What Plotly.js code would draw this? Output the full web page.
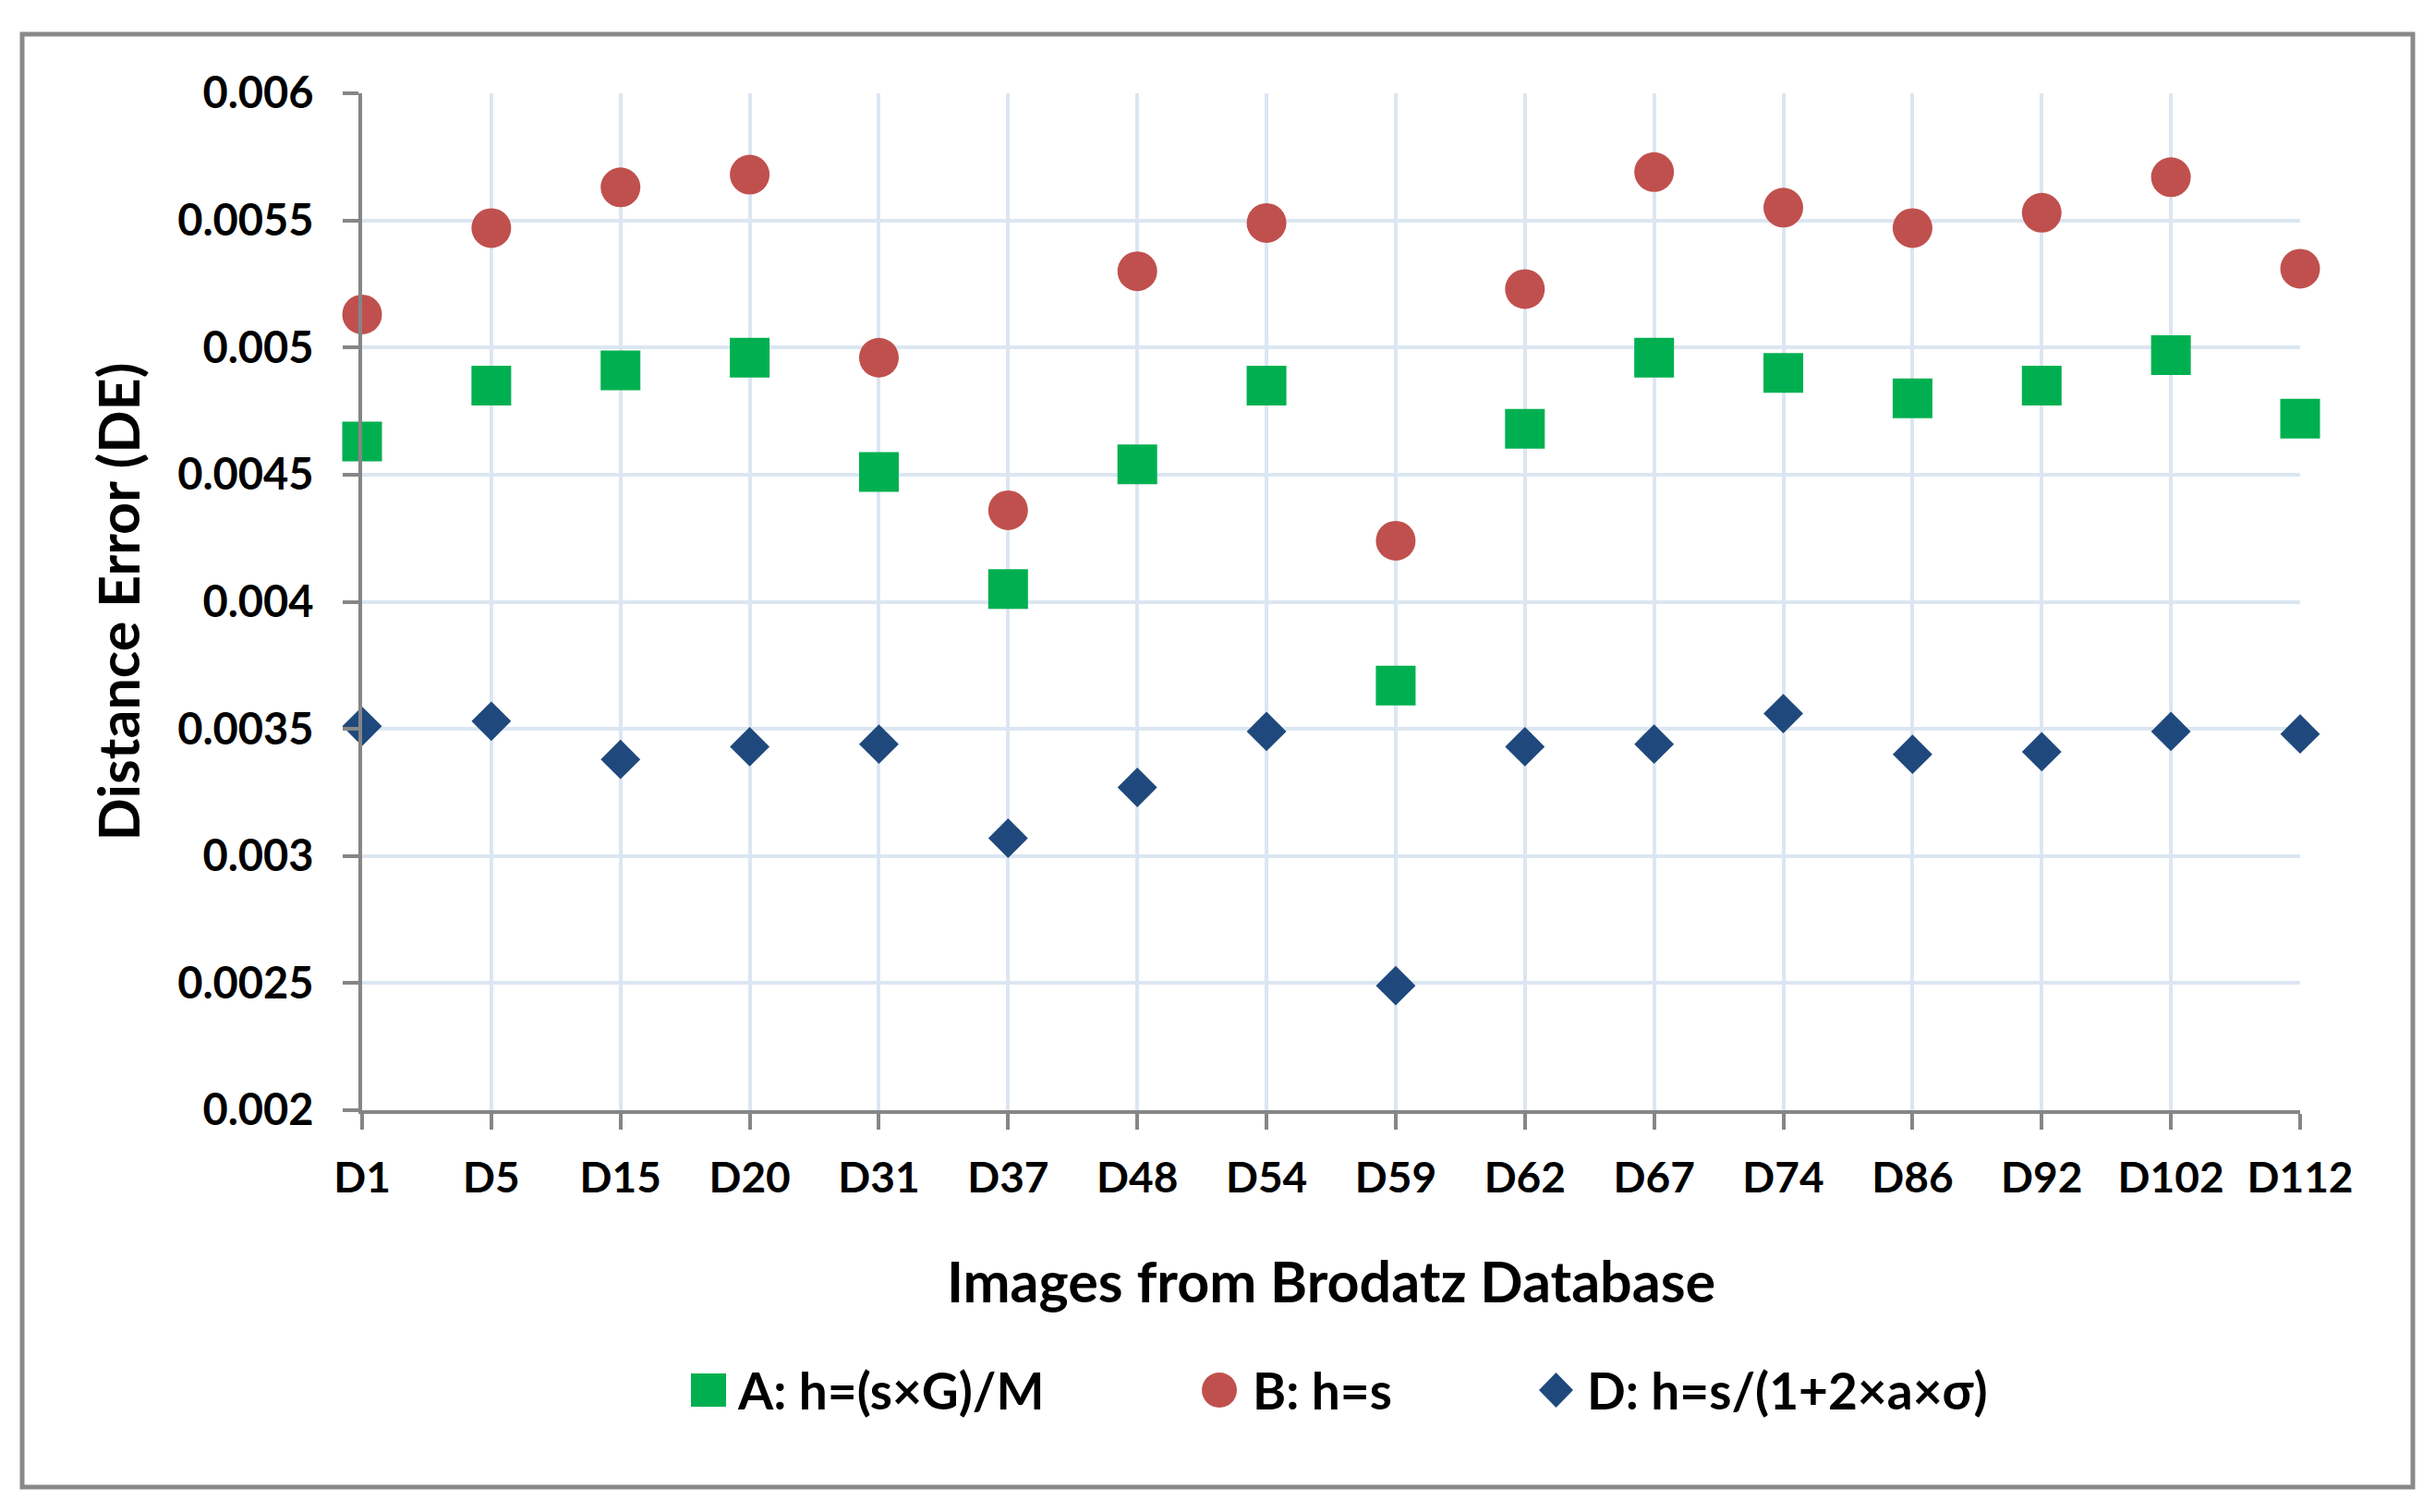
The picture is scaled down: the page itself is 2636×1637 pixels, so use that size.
<!DOCTYPE html>
<html>
<head>
<meta charset="utf-8">
<script src="https://cdn.plot.ly/plotly-3.0.1.min.js"></script>
<style>html,body{margin:0;padding:0;background:#fff;}#chart{width:2636px;height:1637px;}</style>
</head>
<body>
<div id="chart"></div>
<script>
// ---- data ----
var categories = ['D1','D5','D15','D20','D31','D37','D48','D54','D59','D62','D67','D74','D86','D92','D102','D112'];
var seriesA = [0.00463, 0.00485, 0.00491, 0.00496, 0.00451, 0.00405, 0.00454, 0.00485, 0.00367, 0.00468, 0.00496, 0.00490, 0.00480, 0.00485, 0.00497, 0.00472];
var seriesB = [0.00513, 0.00547, 0.00563, 0.00568, 0.00496, 0.00436, 0.00530, 0.00549, 0.00424, 0.00523, 0.00569, 0.00555, 0.00547, 0.00553, 0.00567, 0.00531];
var seriesD = [0.00351, 0.00353, 0.00338, 0.00343, 0.00344, 0.00307, 0.00327, 0.00349, 0.00249, 0.00343, 0.00344, 0.00356, 0.00340, 0.00341, 0.00349, 0.00348];
var seriesNames = ['A: h=(s×G)/M', 'B: h=s', 'D: h=s/(1+2×a×σ)'];
var yTickVals = [0.002, 0.0025, 0.003, 0.0035, 0.004, 0.0045, 0.005, 0.0055, 0.006];
var yTickLabels = ['0.002', '0.0025', '0.003', '0.0035', '0.004', '0.0045', '0.005', '0.0055', '0.006'];
var xTitle = 'Images from Brodatz Database';
var yTitle = 'Distance Error (DE)';

// ---- styling ----
var W = 2636, H = 1637;
var L = 392, R = 2490, T = 101, B = 1202;
function xp(px) { return (px - L) / (R - L); }
function yp(py) { return (B - py) / (B - T); }
var colA = '#00B050', colB = '#C0504D', colD = '#1F497D';
var gridCol = '#DCE6F2', axisCol = '#868686';
var FONT = 'Lato, "Open Sans", sans-serif';

var traces = [
  {x: categories, y: seriesA, name: seriesNames[0], type: 'scatter', mode: 'markers', cliponaxis: false,
   marker: {symbol: 'square', size: 43, color: colA}, showlegend: false},
  {x: categories, y: seriesB, name: seriesNames[1], type: 'scatter', mode: 'markers', cliponaxis: false,
   marker: {symbol: 'circle', size: 43, color: colB}, showlegend: false},
  {x: categories, y: seriesD, name: seriesNames[2], type: 'scatter', mode: 'markers', cliponaxis: false,
   marker: {symbol: 'diamond', size: 33, color: colD}, showlegend: false}
];

// manual legend (large symbols as in the reference)
var legY = 1505;
var shapes = [
  {type: 'rect', xref: 'paper', yref: 'paper', x0: xp(24), x1: xp(2612), y0: yp(1610), y1: yp(37),
   line: {color: '#898989', width: 5}, fillcolor: 'rgba(0,0,0,0)', layer: 'below'},
  {type: 'rect', xref: 'paper', yref: 'paper', x0: xp(748), x1: xp(786), y0: yp(legY + 18), y1: yp(legY - 18),
   line: {width: 0}, fillcolor: colA},
  {type: 'circle', xref: 'paper', yref: 'paper', x0: xp(1301), x1: xp(1339), y0: yp(legY + 19), y1: yp(legY - 19),
   line: {width: 0}, fillcolor: colB},
  {type: 'path', xref: 'paper', yref: 'paper',
   path: 'M' + xp(1666) + ',' + yp(legY) + ' L' + xp(1684.5) + ',' + yp(legY - 19) + ' L' + xp(1703) + ',' + yp(legY) + ' L' + xp(1684.5) + ',' + yp(legY + 19) + ' Z',
   line: {width: 0}, fillcolor: colD}
];
var legX = [796, 1354, 1716];
var annotations = seriesNames.map(function (n, i) {
  return {text: n, xref: 'paper', yref: 'paper', x: xp(legX[i]), y: yp(legY), xanchor: 'left', yanchor: 'middle',
    showarrow: false, font: {family: FONT, size: 55, color: '#000', weight: 'bold'}};
});

var layout = {
  width: W, height: H,
  margin: {l: L, r: W - R, t: T, b: H - B, pad: 0},
  paper_bgcolor: '#fff', plot_bgcolor: '#fff',
  showlegend: false,
  font: {family: FONT, color: '#000'},
  xaxis: {
    type: 'category', range: [0, categories.length - 1], autorange: false,
    showgrid: true, gridcolor: gridCol, gridwidth: 4,
    showline: true, linecolor: axisCol, linewidth: 4,
    ticks: 'outside', ticklen: 17, tickwidth: 4, tickcolor: axisCol,
    tickfont: {family: FONT, size: 46, color: '#000', weight: 'bold'},
    ticklabelstandoff: 13,
    zeroline: false, fixedrange: true,
    title: {text: xTitle, font: {family: FONT, size: 61, color: '#000', weight: 'bold'}, standoff: 68}
  },
  yaxis: {
    range: [0.002, 0.006], autorange: false,
    tickvals: yTickVals, ticktext: yTickLabels, tickmode: 'array',
    showgrid: true, gridcolor: gridCol, gridwidth: 4,
    showline: true, linecolor: axisCol, linewidth: 4,
    ticks: 'outside', ticklen: 17, tickwidth: 4, tickcolor: axisCol,
    tickfont: {family: FONT, size: 47, color: '#000', weight: 'bold'},
    ticklabelstandoff: 22,
    zeroline: false, fixedrange: true,
    title: {text: yTitle, font: {family: FONT, size: 61, color: '#000', weight: 'bold'}, standoff: 22}
  },
  shapes: shapes,
  annotations: annotations
};

Plotly.newPlot('chart', traces, layout, {displayModeBar: false, staticPlot: true});
</script>
</body>
</html>
